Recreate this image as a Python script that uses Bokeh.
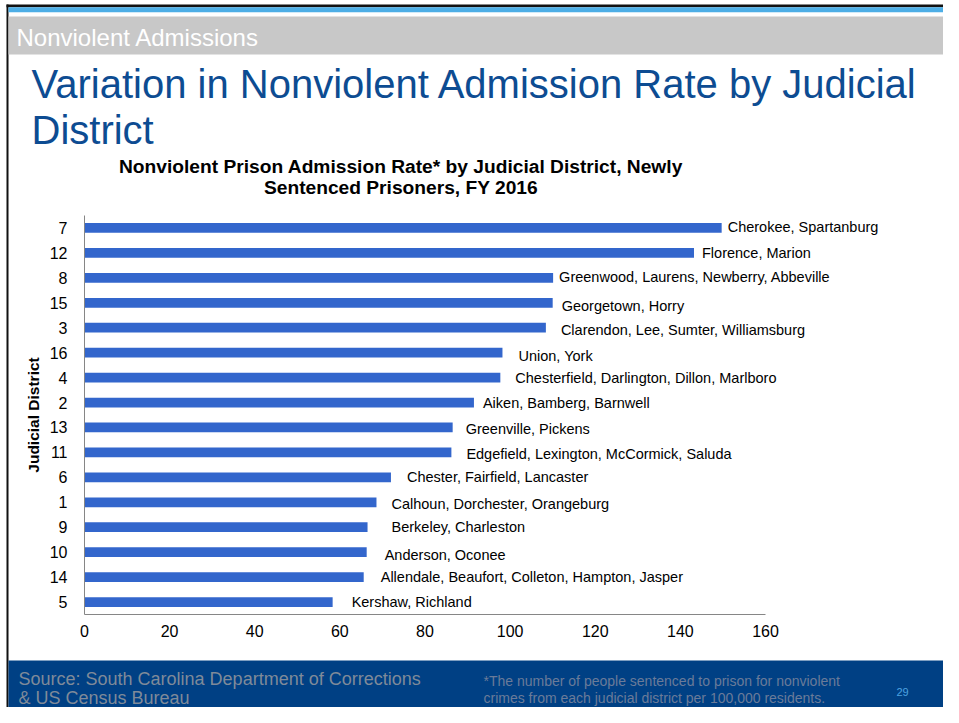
from bokeh.plotting import figure
from bokeh.models import Range1d, FixedTicker, ColumnDataSource, LinearAxis
from bokeh.core.properties import value
from bokeh.embed import file_html
from bokeh.resources import INLINE

# ---------------- data ----------------
districts = ["7", "12", "8", "15", "3", "16", "4", "2", "13", "11", "6", "1", "9", "10", "14", "5"]
rates = [149.7, 143.2, 110.1, 110.0, 108.4, 98.2, 97.7, 91.5, 86.5, 86.2, 72.0, 68.6, 66.5, 66.3, 65.6, 58.3]
counties = [
    "Cherokee, Spartanburg",
    "Florence, Marion",
    "Greenwood, Laurens, Newberry, Abbeville",
    "Georgetown, Horry",
    "Clarendon, Lee, Sumter, Williamsburg",
    "Union, York",
    "Chesterfield, Darlington, Dillon, Marlboro",
    "Aiken, Bamberg, Barnwell",
    "Greenville, Pickens",
    "Edgefield, Lexington, McCormick, Saluda",
    "Chester, Fairfield, Lancaster",
    "Calhoun, Dorchester, Orangeburg",
    "Berkeley, Charleston",
    "Anderson, Oconee",
    "Allendale, Beaufort, Colleton, Hampton, Jasper",
    "Kershaw, Richland",
]
x_ticks = [0, 20, 40, 60, 80, 100, 120, 140, 160]

# label nudges (pixels), layout only
label_dx = [6, 8, 6, 9, 15, 16, 15, 9, 13, 15, 16, 15, 24, 18, 17, 19]
label_dy = [-1, 0, -1, 3, 2, 3, 0, 0, 2, 2, 0, 2, 0, 3, 0, 0]

FONT = "Liberation Sans"
W, H = 943, 707
# slide pixel coordinates shown on the canvas
X0, X1, Y0, Y1 = 0, W, 0, H

# chart area within the slide
PLOT_L, PLOT_R160, PLOT_T, PLOT_B = 84, 765, 215, 614

n = len(districts)
pos = [n - i for i in range(n)]  # 7 at the top
kx = (PLOT_R160 - PLOT_L) / x_ticks[-1]
ky = (PLOT_B - PLOT_T) / n
rate_range = Range1d((X0 - PLOT_L) / kx, (X1 - PLOT_L) / kx)
dist_range = Range1d(0.5 - (Y1 - PLOT_B) / ky, n + 0.5 + (PLOT_T - Y0) / ky)

p = figure(width=W, height=H, x_range=Range1d(X0, X1), y_range=Range1d(Y1, Y0),
           output_backend="svg", toolbar_location=None, min_border=0,
           x_axis_type=None, y_axis_type=None)
p.extra_x_ranges = {"rate": rate_range}
p.extra_y_ranges = {"dist": dist_range}
p.grid.visible = False
p.outline_line_color = None
p.background_fill_color = "white"
p.border_fill_color = "white"


def slide_text(xs, ys, texts, color, size, **kw):
    p.text(x=xs, y=ys, text=texts, text_color=color, text_font=value(FONT),
           text_font_size=value(size), text_baseline="middle", **kw)


# ---- slide frame and header ----
p.quad(left=[6], right=[X1], top=[4], bottom=[6.7], color="#111111", line_color=None)
p.quad(left=[6], right=[8], top=[4], bottom=[Y1], color="#111111", line_color=None)
p.quad(left=[8], right=[X1], top=[6.7], bottom=[11.7], color="#4DAEE6", line_color=None)
p.quad(left=[8], right=[X1], top=[16], bottom=[54], color="#C8C8C8", line_color=None)
slide_text([16], [36.6], ["Nonviolent Admissions"], "white", "24px")
slide_text([31, 31], [83, 129],
           ["Variation in Nonviolent Admission Rate by Judicial", "District"],
           "#0D4C92", "40px")
slide_text([400.5, 400.5], [166.3, 187.3],
           ["Nonviolent Prison Admission Rate* by Judicial District, Newly",
            "Sentenced Prisoners, FY 2016"],
           "black", "19.2px", text_font_style="bold", text_align="center")

# ---- bars ----
src = ColumnDataSource(dict(pos=pos, district=districts, rate=rates, county=counties,
                            dx=label_dx, dy=label_dy))
p.hbar(y="pos", left=0, right="rate", height=0.39, source=src,
       x_range_name="rate", y_range_name="dist",
       fill_color="#3366CC", line_color=None)
p.text(x="rate", y="pos", text="county", x_offset="dx", y_offset="dy", source=src,
       x_range_name="rate", y_range_name="dist",
       text_font=value(FONT), text_font_size=value("14.5px"), text_color="black",
       text_baseline="middle", text_align="left")

# ---- axes ----
xa = LinearAxis(x_range_name="rate", fixed_location=PLOT_B,
                ticker=FixedTicker(ticks=x_ticks), bounds=(x_ticks[0], x_ticks[-1]))
xa.axis_line_color = "#868686"
xa.major_tick_in = 0
xa.major_tick_out = 0
xa.minor_tick_line_color = None
xa.major_label_text_font = FONT
xa.major_label_text_font_size = "16px"
xa.major_label_text_color = "black"
xa.major_label_standoff = 10
p.add_layout(xa, "below")

ya = LinearAxis(y_range_name="dist", fixed_location=PLOT_L,
                ticker=FixedTicker(ticks=pos), bounds=(0.5, n + 0.5),
                major_label_overrides={int(k): d for k, d in zip(pos, districts)})
ya.axis_line_color = "#868686"
ya.major_tick_in = 0
ya.major_tick_out = 0
ya.minor_tick_line_color = None
ya.major_label_text_font = FONT
ya.major_label_text_font_size = "16px"
ya.major_label_text_color = "black"
ya.major_label_standoff = 17
ya.axis_label = "Judicial District"
ya.axis_label_text_font = FONT
ya.axis_label_text_font_size = "15.5px"
ya.axis_label_text_font_style = "bold"
ya.axis_label_text_color = "black"
ya.axis_label_standoff = 5
p.add_layout(ya, "left")

# ---- slide footer ----
p.quad(left=[8], right=[X1], top=[660], bottom=[Y1], color="#004084", line_color=None)
slide_text([18, 18], [678, 697],
           ["Source: South Carolina Department of Corrections", "& US Census Bureau"],
           "#7F8A99", "18px")
slide_text([483, 483], [680, 697],
           ["*The number of people sentenced to prison for nonviolent",
            "crimes from each judicial district per 100,000 residents."],
           "#6A7B99", "14px")
slide_text([896], [691], ["29"], "#4DA3E0", "11px")

open("out.html", "w").write(file_html(p, INLINE))
